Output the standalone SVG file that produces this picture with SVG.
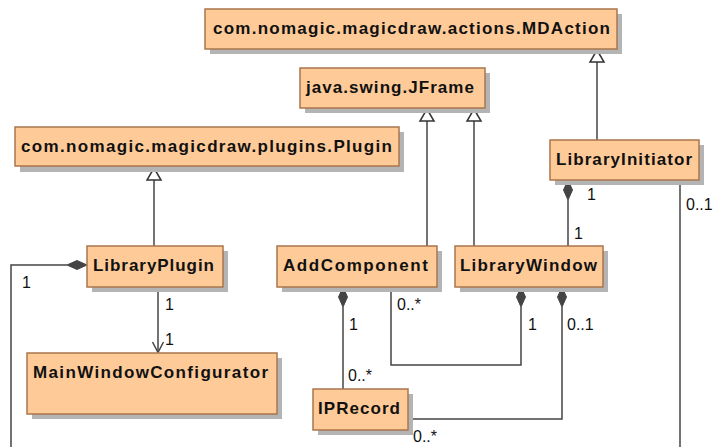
<svg xmlns="http://www.w3.org/2000/svg" width="713" height="447" viewBox="0 0 713 447">
  <style>
    .box { fill: #fecb98; stroke: #a9764e; stroke-width: 1.5; }
    .shadow { fill: #b4b4b4; }
    .name { font-family: "Liberation Sans", Arial, sans-serif; font-weight: bold; font-size: 17px; fill: #111111; }
    .edge { fill: none; stroke: #444444; stroke-width: 1.5; }
    .tri { fill: #ffffff; stroke: #333333; stroke-width: 1.5; stroke-linejoin: miter; }
    .dia { fill: #444444; stroke: #444444; stroke-width: 1; }
    .mult { font-family: "Liberation Sans", Arial, sans-serif; font-size: 16px; fill: #111111; }
  </style>
  <rect width="713" height="447" fill="#ffffff"/>

  <g id="connectors">
    <!-- generalizations: hollow triangle at the parent end -->
    <path class="edge" d="M597 140 V62"/>
    <path class="tri" d="M597 50 L604 62 L590 62 Z"/>
    <path class="edge" d="M427 246 V121"/>
    <path class="tri" d="M427 109 L434 121 L420 121 Z"/>
    <path class="edge" d="M474 246 V121"/>
    <path class="tri" d="M474 109 L481 121 L467 121 Z"/>
    <path class="edge" d="M154 246 V180"/>
    <path class="tri" d="M154 168 L161 180 L147 180 Z"/>

    <!-- LibraryInitiator composes LibraryWindow -->
    <path class="edge" d="M568 200 V246"/>
    <path class="dia" d="M568 180 L572.5 190 L568 200 L563.5 190 Z"/>
    <text class="mult" x="587" y="200">1</text>
    <text class="mult" x="574" y="239">1</text>

    <!-- LibraryInitiator 0..1 down the right side -->
    <path class="edge" d="M680 180 V447"/>
    <text class="mult" x="686" y="210">0..1</text>

    <!-- LibraryPlugin composite to the left -->
    <path class="edge" d="M67 265 H11 V447"/>
    <path class="dia" d="M87 265 L77 260.5 L67 265 L77 269.5 Z"/>
    <text class="mult" x="22" y="288">1</text>

    <!-- LibraryPlugin to MainWindowConfigurator -->
    <path class="edge" d="M158 287 V352"/>
    <path class="edge" d="M152.5 342 L158 352.5 L163.5 342"/>
    <text class="mult" x="165" y="310">1</text>
    <text class="mult" x="165" y="345">1</text>

    <!-- AddComponent composes IPRecord -->
    <path class="edge" d="M343 307 V389"/>
    <path class="dia" d="M343 287 L347.5 297 L343 307 L338.5 297 Z"/>
    <text class="mult" x="349" y="330">1</text>
    <text class="mult" x="348" y="381">0..*</text>

    <!-- LibraryWindow composes AddComponent -->
    <path class="edge" d="M391 287 V365 H521 V307"/>
    <path class="dia" d="M521 287 L525.5 297 L521 307 L516.5 297 Z"/>
    <text class="mult" x="397" y="310">0..*</text>
    <text class="mult" x="528" y="330">1</text>

    <!-- LibraryWindow composes IPRecord -->
    <path class="edge" d="M562 307 V419 H408"/>
    <path class="dia" d="M562 287 L566.5 297 L562 307 L557.5 297 Z"/>
    <text class="mult" x="567" y="330">0..1</text>
    <text class="mult" x="413" y="442">0..*</text>
  </g>

  <g id="MDAction">
    <rect class="shadow" x="210" y="14" width="412" height="40"/>
    <rect class="box" x="205" y="9" width="412" height="40"/>
    <text class="name" x="213" y="34" textLength="397" lengthAdjust="spacing">com.nomagic.magicdraw.actions.MDAction</text>
  </g>

  <g id="JFrame">
    <rect class="shadow" x="305" y="73" width="185" height="40"/>
    <rect class="box" x="300" y="68" width="185" height="40"/>
    <text class="name" x="306" y="93" textLength="168" lengthAdjust="spacing">java.swing.JFrame</text>
  </g>

  <g id="Plugin">
    <rect class="shadow" x="20" y="132" width="384" height="40"/>
    <rect class="box" x="15" y="127" width="384" height="39"/>
    <text class="name" x="21" y="152" textLength="371" lengthAdjust="spacing">com.nomagic.magicdraw.plugins.Plugin</text>
  </g>

  <g id="LibraryInitiator">
    <rect class="shadow" x="555" y="145" width="149" height="40"/>
    <rect class="box" x="550" y="140" width="149" height="40"/>
    <text class="name" x="556" y="165" textLength="136" lengthAdjust="spacing">LibraryInitiator</text>
  </g>

  <g id="LibraryPlugin">
    <rect class="shadow" x="92" y="251" width="136" height="41"/>
    <rect class="box" x="87" y="246" width="136" height="41"/>
    <text class="name" x="93" y="271" textLength="121" lengthAdjust="spacing">LibraryPlugin</text>
  </g>

  <g id="AddComponent">
    <rect class="shadow" x="282" y="251" width="160" height="41"/>
    <rect class="box" x="277" y="246" width="160" height="41"/>
    <text class="name" x="283" y="271" textLength="145" lengthAdjust="spacing">AddComponent</text>
  </g>

  <g id="LibraryWindow">
    <rect class="shadow" x="460" y="251" width="148" height="41"/>
    <rect class="box" x="455" y="246" width="148" height="41"/>
    <text class="name" x="460" y="271" textLength="137" lengthAdjust="spacing">LibraryWindow</text>
  </g>

  <g id="MainWindowConfigurator">
    <rect class="shadow" x="32" y="358" width="250" height="61"/>
    <rect class="box" x="27" y="353" width="250" height="61"/>
    <text class="name" x="33" y="378" textLength="235" lengthAdjust="spacing">MainWindowConfigurator</text>
  </g>

  <g id="IPRecord">
    <rect class="shadow" x="318" y="394" width="95" height="41"/>
    <rect class="box" x="313" y="389" width="95" height="41"/>
    <text class="name" x="318" y="414" textLength="82" lengthAdjust="spacing">IPRecord</text>
  </g>
</svg>
